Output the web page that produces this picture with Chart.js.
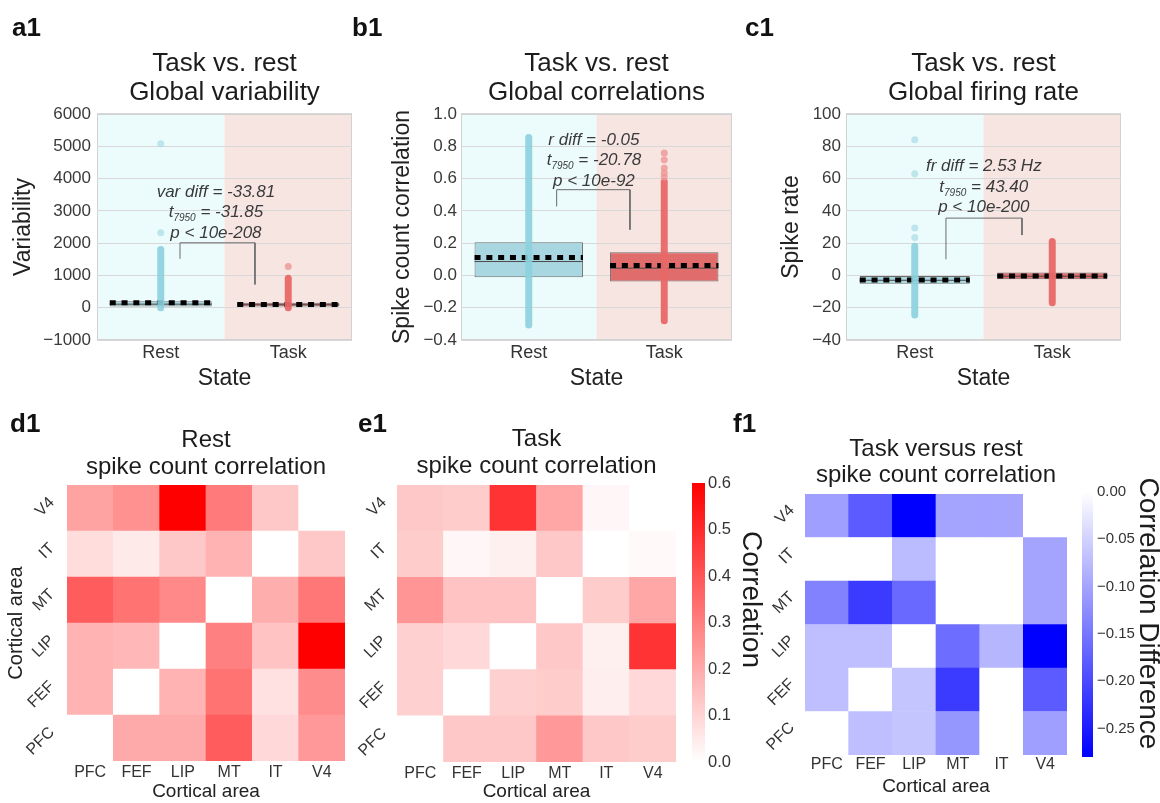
<!DOCTYPE html>
<html lang="en">
<head>
<meta charset="UTF-8">
<title>Task vs. rest</title>
<script src="https://cdn.jsdelivr.net/npm/chart.js"></script>
<style>
  body { margin: 0; background: #fff; }
  #fig { position: relative; width: 1160px; height: 803px; overflow: hidden; font-family: 'Liberation Sans', Arial, Helvetica, sans-serif; }
  canvas { position: absolute; }
  .tag { position: absolute; font-size: 26px; line-height: 26px; font-weight: bold; color: #111; }
</style>
</head>
<body>
<div id="fig">
  <canvas id="varChart"  style="left:0;top:40px"     width="370" height="360"></canvas>
  <canvas id="corrChart" style="left:370px;top:40px" width="390" height="360"></canvas>
  <canvas id="rateChart" style="left:760px;top:40px" width="400" height="360"></canvas>

  <canvas id="restMap"  style="left:0;top:400px"     width="370" height="403"></canvas>
  <canvas id="taskMap"  style="left:350px;top:400px" width="340" height="403"></canvas>
  <canvas id="corrBar"  style="left:680px;top:400px" width="90"  height="403"></canvas>
  <canvas id="diffMap"  style="left:760px;top:400px" width="320" height="403"></canvas>
  <canvas id="diffBar"  style="left:1070px;top:400px" width="90" height="403"></canvas>

  <div class="tag" style="left:12px;top:14px">a1</div>
  <div class="tag" style="left:352px;top:14px">b1</div>
  <div class="tag" style="left:745px;top:14px">c1</div>
  <div class="tag" style="left:10px;top:410px">d1</div>
  <div class="tag" style="left:358px;top:410px">e1</div>
  <div class="tag" style="left:733px;top:410px">f1</div>
</div>

<script>
// ---- data ----
const states = ['Rest', 'Task'];
const areas = ['PFC', 'FEF', 'LIP', 'MT', 'IT', 'V4'];

// global variability
const varBox = [[40, 200], [40, 150]];
const varMedian = [110, 90];
const varMean = [155, 100];
const varRange = [[0, 1800], [0, 910]];
const varOutliers = [[2320, 5080], [1280]];
const varBracket = [[0.151, 1515], [0.151, 2010], [0.739, 2010], [0.739, 720]];
const varTicks = [-1000, 0, 1000, 2000, 3000, 4000, 5000, 6000];
const varText = ['var diff = -33.81', ' = -31.85', 'p < 10e-208'];

// global correlations
const corrBox = [[-0.011, 0.206], [-0.038, 0.144]];
const corrMedian = [0.086, 0.045];
const corrMean = [0.111, 0.061];
const corrRange = [[-0.307, 0.855], [-0.28, 0.58]];
const corrOutliers = [[], [0.61, 0.634, 0.665, 0.716, 0.758]];
const corrBracket = [[0.206, 0.427], [0.206, 0.531], [0.747, 0.531], [0.747, 0.283]];
const corrTicks = [-0.4, -0.2, 0, 0.2, 0.4, 0.6, 0.8, 1.0];
const corrText = ['r diff = -0.05', ' = -20.78', 'p < 10e-92'];

// global firing rate
const rateBox = [[-5.2, -0.3], [-2.3, 1.8]];
const rateMedian = [-3, -0.5];
const rateMean = [-2.8, -0.3];
const rateRange = [[-24.5, 18], [-17, 21]];
const rateOutliers = [[23.5, 29.3, 63, 84], []];
const rateBracket = [[0.227, 10], [0.227, 35.5], [0.78, 35.5], [0.78, 25]];
const rateTicks = [-40, -20, 0, 20, 40, 60, 80, 100];
const rateText = ['fr diff = 2.53 Hz', ' = 43.40', 'p < 10e-200'];

// pairwise spike count correlation, rows/cols in `areas` order
const restCorr = [
  [0,    0.20, 0.20, 0.38, 0.09, 0.24],
  [0.18, 0,    0.18, 0.33, 0.07, 0.27],
  [0.18, 0.17, 0,    0.30, 0.14, 0.60],
  [0.38, 0.33, 0.28, 0,    0.19, 0.32],
  [0.08, 0.05, 0.13, 0.18, 0,    0.13],
  [0.22, 0.26, 0.60, 0.31, 0.13, 0]
];
const taskCorr = [
  [0,    0.13, 0.13,  0.24, 0.13,  0.12],
  [0.11, 0,    0.11,  0.12, 0.04,  0.09],
  [0.11, 0.09, 0,     0.13, 0.035, 0.48],
  [0.25, 0.14, 0.14,  0,    0.12,  0.21],
  [0.12, 0.02, 0.035, 0.13, 0,     0.015],
  [0.13, 0.12, 0.48,  0.21, 0.02,  0]
];
const corrDiff = [
  [0,      -0.07,  -0.065, -0.115, 0,     -0.105],
  [-0.07,  0,      -0.065, -0.215, 0,     -0.18],
  [-0.07,  -0.07,  0,      -0.16,  -0.08, -0.28],
  [-0.137, -0.215, -0.165, 0,      0,     -0.10],
  [0,      0,      -0.075, 0,      0,     -0.10],
  [-0.105, -0.18,  -0.28,  -0.10,  -0.10, 0]
];
const corrScale = [0, 0.6];
const corrScaleTicks = [0, 0.1, 0.2, 0.3, 0.4, 0.5, 0.6];
const diffScale = [-0.28, 0];
const diffScaleTicks = [-0.25, -0.2, -0.15, -0.1, -0.05, 0];

// ---- look ----
const FONT = "'Liberation Sans', Arial, Helvetica, sans-serif";
Chart.defaults.font.family = FONT;
Chart.defaults.color = '#333';
Chart.defaults.animation = false;
Chart.defaults.events = [];
Chart.defaults.plugins.legend.display = false;
Chart.defaults.plugins.tooltip.enabled = false;

const fillColors = ['#a9d7e1', '#e06c6c'];
const stripColors = ['rgba(140, 208, 222, 0.9)', 'rgba(232, 104, 104, 0.95)'];
const paleColors = ['rgba(170, 220, 230, 0.7)', 'rgba(238, 150, 150, 0.8)'];

const minus = s => s.replace('-', '\u2212');

function redOf(v) {
  const t = Math.max(0, Math.min(1, (v - corrScale[0]) / (corrScale[1] - corrScale[0])));
  const c = Math.round(255 * (1 - t));
  return `rgb(255, ${c}, ${c})`;
}
function blueOf(v) {
  const t = Math.max(0, Math.min(1, v / diffScale[0]));
  const c = Math.round(255 * (1 - t));
  return `rgb(${c}, ${c}, 255)`;
}

// tinted halves + frame behind the strip plots
const shading = {
  id: 'shading',
  beforeDraw(chart) {
    const { ctx, chartArea: a, scales } = chart;
    const mid = scales.xl.getPixelForValue(0.5);
    ctx.save();
    ctx.fillStyle = '#ecfcfc';
    ctx.fillRect(a.left, a.top, mid - a.left, a.bottom - a.top);
    ctx.fillStyle = '#f7e5e2';
    ctx.fillRect(mid, a.top, a.right - mid, a.bottom - a.top);
    ctx.strokeStyle = '#d2d2d2';
    ctx.lineWidth = 1;
    ctx.strokeRect(a.left + 0.5, a.top + 0.5, a.right - a.left - 1, a.bottom - a.top - 1);
    ctx.restore();
  }
};

// three-line test statistic above the bracket
function statsText(lines, at) {
  return {
    id: 'statsText',
    afterDatasetsDraw(chart) {
      const { ctx, scales } = chart;
      const x = scales.xl.getPixelForValue(at[0]);
      const y = scales.y.getPixelForValue(at[1]);
      const big = `italic 17px ${FONT}`;
      const small = `italic 10px ${FONT}`;
      ctx.save();
      ctx.fillStyle = '#3a3a3a';
      ctx.textBaseline = 'middle';
      lines.forEach((line, i) => {
        const yy = y + i * 20.5;
        if (i === 1) {
          ctx.font = big;
          const wt = ctx.measureText('t').width;
          const wr = ctx.measureText(line).width;
          ctx.font = small;
          const ws = ctx.measureText('7950').width;
          const x0 = x - (wt + ws + wr) / 2;
          ctx.textAlign = 'left';
          ctx.font = big;
          ctx.fillText('t', x0, yy);
          ctx.font = small;
          ctx.fillText('7950', x0 + wt, yy + 6);
          ctx.font = big;
          ctx.fillText(line, x0 + wt + ws, yy);
        } else {
          ctx.textAlign = 'center';
          ctx.font = big;
          ctx.fillText(line, x, yy);
        }
      });
      ctx.restore();
    }
  };
}

function stateChart(id, d, look) {
  const datasets = [{
    type: 'bar',
    xAxisID: 'x',
    data: d.box,
    backgroundColor: fillColors,
    borderColor: '#6c6c6c',
    borderWidth: 1,
    borderSkipped: false,
    grouped: false,
    barPercentage: 0.8,
    categoryPercentage: 1,
    order: 6
  }, {
    type: 'line',
    xAxisID: 'xl',
    data: d.bracket.map(([x, y]) => ({ x, y })),
    borderColor: '#6a6a6a',
    borderWidth: 1,
    pointRadius: 0,
    order: 7
  }];
  states.forEach((s, g) => {
    datasets.push({
      type: 'line', xAxisID: 'xl',
      data: [{ x: g - 0.4, y: d.median[g] }, { x: g + 0.4, y: d.median[g] }],
      borderColor: '#4a4a4a', borderWidth: 1, pointRadius: 0, order: 5
    });
    datasets.push({
      type: 'line', xAxisID: 'xl',
      data: [{ x: g - 0.4, y: d.mean[g] }, { x: g + 0.4, y: d.mean[g] }],
      borderColor: '#000', borderWidth: 5, borderDash: [6, 5.8], pointRadius: 0, order: 4
    });
    datasets.push({
      type: 'line', xAxisID: 'xl',
      data: [{ x: g, y: d.range[g][0] }, { x: g, y: d.range[g][1] }],
      borderColor: stripColors[g], borderWidth: 7, borderCapStyle: 'round', pointRadius: 0, order: 3
    });
    datasets.push({
      type: 'scatter', xAxisID: 'xl',
      data: d.outliers[g].map(v => ({ x: g, y: v })),
      backgroundColor: paleColors[g], borderWidth: 0, pointRadius: 3.5, order: 2
    });
  });

  return new Chart(document.getElementById(id), {
    type: 'bar',
    data: { labels: states, datasets },
    options: {
      responsive: false,
      layout: { padding: { left: 0, right: look.padRight, top: 0, bottom: 0 } },
      plugins: {
        title: {
          display: true,
          text: look.title,
          fullSize: false,
          color: '#1c1c1c',
          font: { size: 26, weight: 'normal', lineHeight: 1.115 },
          padding: { top: 9.5, bottom: 6.5 }
        }
      },
      scales: {
        x: {
          grid: { display: false, drawTicks: false },
          border: { display: false },
          ticks: { font: { size: 18 }, color: '#333', padding: 2 },
          title: { display: true, text: 'State', color: '#222', font: { size: 23 }, padding: { top: 0, bottom: 8 } },
          afterFit: s => { s.height = 60; }
        },
        // hidden linear twin of the category axis: Rest = 0, Task = 1
        xl: { type: 'linear', display: false, offset: false, min: -0.5, max: 1.5 },
        y: {
          min: d.ticks[0],
          max: d.ticks[d.ticks.length - 1],
          afterBuildTicks: s => { s.ticks = d.ticks.map(v => ({ value: v })); },
          grid: { color: '#d8d8d8', drawTicks: false },
          border: { display: false },
          ticks: { font: { size: 17 }, color: '#3a3a3a', padding: look.tickPad, callback: d.fmt },
          title: { display: true, text: look.yTitle, color: '#222', font: { size: 23 }, padding: { top: look.yTitlePad, bottom: 0 } },
          afterFit: s => { s.width = look.yWidth; }
        }
      }
    },
    plugins: [shading, statsText(d.text, look.textAt)]
  });
}

stateChart('varChart', {
  box: varBox, median: varMedian, mean: varMean, range: varRange, outliers: varOutliers,
  bracket: varBracket, ticks: varTicks, text: varText, fmt: v => minus(String(v))
}, { title: ['Task vs. rest', 'Global variability'], yTitle: 'Variability', yWidth: 97, yTitlePad: 10, tickPad: 6, padRight: 18, textAt: [0.433, 3584] });

stateChart('corrChart', {
  box: corrBox, median: corrMedian, mean: corrMean, range: corrRange, outliers: corrOutliers,
  bracket: corrBracket, ticks: corrTicks, text: corrText, fmt: v => minus(v.toFixed(1))
}, { title: ['Task vs. rest', 'Global correlations'], yTitle: 'Spike count correlation', yWidth: 91, yTitlePad: 19, tickPad: 4, padRight: 28, textAt: [0.481, 0.839] });

stateChart('rateChart', {
  box: rateBox, median: rateMedian, mean: rateMean, range: rateRange, outliers: rateOutliers,
  bracket: rateBracket, ticks: rateTicks, text: rateText, fmt: v => minus(String(v))
}, { title: ['Task vs. rest', 'Global firing rate'], yTitle: 'Spike rate', yWidth: 86, yTitlePad: 18, tickPad: 5, padRight: 39, textAt: [0.502, 67.4] });

// ---- heatmaps: one floating-bar dataset per row ----
function heatmap(id, matrix, colorOf, look) {
  return new Chart(document.getElementById(id), {
    type: 'bar',
    data: {
      labels: areas,
      datasets: matrix.map((row, r) => ({
        data: row.map(() => [r, r + 1]),
        backgroundColor: row.map(colorOf),
        borderWidth: 0,
        grouped: false,
        barPercentage: 1,
        categoryPercentage: 1
      }))
    },
    options: {
      responsive: false,
      layout: { padding: { left: 0, right: look.padRight, top: 0, bottom: 0 } },
      plugins: {
        title: {
          display: true,
          text: look.title,
          fullSize: false,
          color: '#1c1c1c',
          font: { size: 24, weight: 'normal', lineHeight: look.titleLh },
          padding: look.titlePad
        }
      },
      scales: {
        x: {
          grid: { display: false, drawTicks: false },
          border: { display: false },
          ticks: { font: { size: 16 }, color: '#333', padding: look.xPad },
          title: { display: true, text: 'Cortical area', color: '#222', font: { size: 19 }, padding: { top: 0, bottom: look.xTitlePad } },
          afterFit: s => { s.height = look.xHeight; }
        },
        y: {
          min: 0,
          max: 6,
          grid: { display: false, drawTicks: false },
          border: { display: false },
          afterBuildTicks: s => { s.ticks = areas.map((a, i) => ({ value: i + 0.5 })); },
          ticks: {
            font: { size: 16 }, color: '#333',
            minRotation: 45, maxRotation: 45,
            padding: look.yPad, labelOffset: -8,
            callback: (v, i) => areas[i]
          },
          title: { display: !!look.yTitle, text: look.yTitle || '', color: '#222', font: { size: 20 }, padding: { top: 4, bottom: 0 } },
          afterFit: s => { s.width = look.yWidth; }
        }
      }
    }
  });
}

heatmap('restMap', restCorr, redOf, {
  title: ['Rest', 'spike count correlation'], titleLh: 1.125, titlePad: { top: 27, bottom: 4 },
  yTitle: 'Cortical area', yWidth: 67, yPad: 15, padRight: 25, xHeight: 42, xPad: 2, xTitlePad: 0
});
heatmap('taskMap', taskCorr, redOf, {
  title: ['Task', 'spike count correlation'], titleLh: 1.125, titlePad: { top: 26, bottom: 5 },
  yWidth: 47, yPad: 13, padRight: 14, xHeight: 41, xPad: 2, xTitlePad: 0
});
heatmap('diffMap', corrDiff, blueOf, {
  title: ['Task versus rest', 'spike count correlation'], titleLh: 1.083, titlePad: { top: 36, bottom: 6 },
  yWidth: 45, yPad: 13, padRight: 13, xHeight: 48, xPad: 0, xTitlePad: 4.6
});

// ---- colour bars ----
function barLabel(text, dx, dy) {
  return {
    id: 'barLabel',
    afterDraw(chart) {
      const { ctx, chartArea: a } = chart;
      ctx.save();
      ctx.translate(a.right + dx, (a.top + a.bottom) / 2 + dy);
      ctx.rotate(Math.PI / 2);
      ctx.font = `28px ${FONT}`;
      ctx.fillStyle = '#1c1c1c';
      ctx.textAlign = 'center';
      ctx.textBaseline = 'middle';
      ctx.fillText(text, 0, 0);
      ctx.restore();
    }
  };
}

function colorBar(id, range, ticks, lowColor, highColor, look) {
  return new Chart(document.getElementById(id), {
    type: 'bar',
    data: {
      labels: [''],
      datasets: [{
        data: [range],
        borderWidth: 0,
        barPercentage: 1,
        categoryPercentage: 1,
        backgroundColor: c => {
          const a = c.chart.chartArea;
          if (!a) return lowColor;
          const g = c.chart.ctx.createLinearGradient(0, a.bottom, 0, a.top);
          g.addColorStop(0, lowColor);
          g.addColorStop(1, highColor);
          return g;
        }
      }]
    },
    options: {
      responsive: false,
      layout: { padding: { left: 12, right: 0, top: look.top, bottom: look.bottom } },
      scales: {
        x: { display: false },
        y: {
          position: 'right',
          min: range[0],
          max: range[1],
          afterBuildTicks: s => { s.ticks = ticks.map(v => ({ value: v })); },
          grid: { display: false, drawTicks: false },
          border: { display: false },
          ticks: { font: { size: look.fontSize }, color: '#333', padding: look.tickPad, callback: look.fmt },
          afterFit: s => { s.width = look.width; }
        }
      }
    },
    plugins: [barLabel(look.label, look.dx, look.dy)]
  });
}

colorBar('corrBar', corrScale, corrScaleTicks, '#ffffff', '#ff0000', {
  top: 83, bottom: 41, width: 65, fontSize: 16.5, tickPad: 3,
  fmt: v => v.toFixed(1), label: 'Correlation', dx: 46, dy: -23
});
colorBar('diffBar', diffScale, diffScaleTicks, '#0000ff', '#ffffff', {
  top: 92, bottom: 46, width: 67, fontSize: 15, tickPad: 4,
  fmt: v => minus(v.toFixed(2)), label: 'Correlation Difference', dx: 55, dy: -11
});
</script>
</body>
</html>
